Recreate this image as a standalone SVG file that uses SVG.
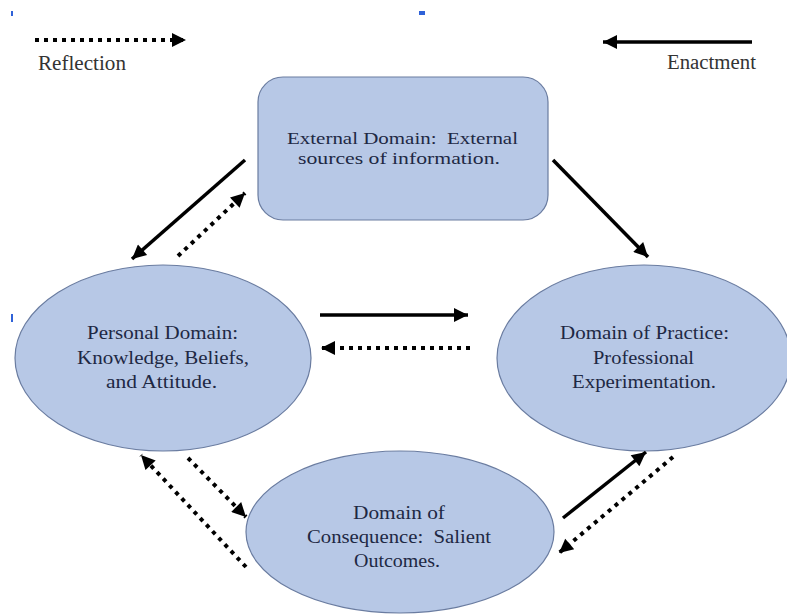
<svg xmlns="http://www.w3.org/2000/svg" width="787" height="615" viewBox="0 0 787 615">
<defs>
<style>
.node{fill:#b7c8e6;stroke:#6a7ca0;stroke-width:1.2}
text{font-family:"Liberation Serif",Tinos,"Times New Roman",Times,"DejaVu Serif",serif}
.t{fill:#1e2844;white-space:pre}
.lg{fill:#333;font-size:20px}
.solid{stroke:#000;stroke-width:3.5;fill:none}
.dot{stroke:#000;stroke-width:4;fill:none;stroke-dasharray:4 5}
.mark{fill:#2f62d8}
</style>
<marker id="ah" viewBox="0 0 10 10" refX="10" refY="5" markerWidth="16" markerHeight="14" markerUnits="userSpaceOnUse" orient="auto">
<path d="M0,0 L10,5 L0,10 z" fill="#000"/>
</marker>
</defs>
<rect width="787" height="615" fill="#fff"/>
<rect class="mark" x="11" y="11" width="2" height="5"/>
<rect class="mark" x="419" y="11" width="6" height="4"/>
<rect class="mark" x="11" y="314" width="2" height="8"/>

<g id="legend">
<line class="dot" x1="35" y1="40" x2="186" y2="40" marker-end="url(#ah)"/>
<text class="lg" x="38" y="70" textLength="88" lengthAdjust="spacingAndGlyphs">Reflection</text>
<line class="solid" x1="752" y1="42" x2="603" y2="42" stroke-width="4" marker-end="url(#ah)"/>
<text class="lg" x="667" y="69" textLength="89" lengthAdjust="spacingAndGlyphs">Enactment</text>
</g>

<g id="external">
<rect class="node" x="258" y="77" width="290" height="143" rx="25" ry="25"/>
<text class="t" font-size="17.5" x="287" y="144" textLength="231" lengthAdjust="spacingAndGlyphs" xml:space="preserve">External Domain:  External</text>
<text class="t" font-size="17.5" x="298" y="164" textLength="202" lengthAdjust="spacingAndGlyphs">sources of information.</text>
</g>

<g id="personal">
<ellipse class="node" cx="163" cy="358" rx="148" ry="93"/>
<text class="t" font-size="19" x="87" y="339" textLength="151" lengthAdjust="spacingAndGlyphs">Personal Domain:</text>
<text class="t" font-size="19" x="77" y="364" textLength="172" lengthAdjust="spacingAndGlyphs">Knowledge, Beliefs,</text>
<text class="t" font-size="19" x="106" y="388" textLength="111" lengthAdjust="spacingAndGlyphs">and Attitude.</text>
</g>

<g id="practice">
<ellipse class="node" cx="644" cy="358" rx="147" ry="93"/>
<text class="t" font-size="19" x="560" y="339" textLength="169" lengthAdjust="spacingAndGlyphs">Domain of Practice:</text>
<text class="t" font-size="19" x="593" y="364" textLength="101" lengthAdjust="spacingAndGlyphs">Professional</text>
<text class="t" font-size="19" x="572" y="388" textLength="144" lengthAdjust="spacingAndGlyphs">Experimentation.</text>
</g>

<g id="consequence">
<ellipse class="node" cx="400" cy="532" rx="154" ry="81"/>
<text class="t" font-size="19" x="353" y="519" textLength="92" lengthAdjust="spacingAndGlyphs">Domain of</text>
<text class="t" font-size="19" x="307" y="543" textLength="184" lengthAdjust="spacingAndGlyphs" xml:space="preserve">Consequence:  Salient</text>
<text class="t" font-size="19" x="354" y="567" textLength="86" lengthAdjust="spacingAndGlyphs">Outcomes.</text>
</g>

<g id="connectors">
<line class="solid" x1="245" y1="160" x2="132" y2="259" marker-end="url(#ah)"/>
<line class="dot" x1="178" y1="256" x2="245" y2="193" marker-end="url(#ah)"/>
<line class="solid" x1="553" y1="160" x2="648" y2="257" marker-end="url(#ah)"/>
<line class="solid" x1="320" y1="315" x2="468" y2="315" stroke-width="4" marker-end="url(#ah)"/>
<line class="dot" x1="470" y1="348" x2="321" y2="348" marker-end="url(#ah)"/>
<line class="dot" x1="246" y1="567" x2="141" y2="455" marker-end="url(#ah)"/>
<line class="dot" x1="188" y1="458" x2="246" y2="517" marker-end="url(#ah)"/>
<line class="solid" x1="563" y1="518" x2="646" y2="452" marker-end="url(#ah)"/>
<line class="dot" x1="673" y1="457" x2="559" y2="553" marker-end="url(#ah)"/>
</g>
</svg>
